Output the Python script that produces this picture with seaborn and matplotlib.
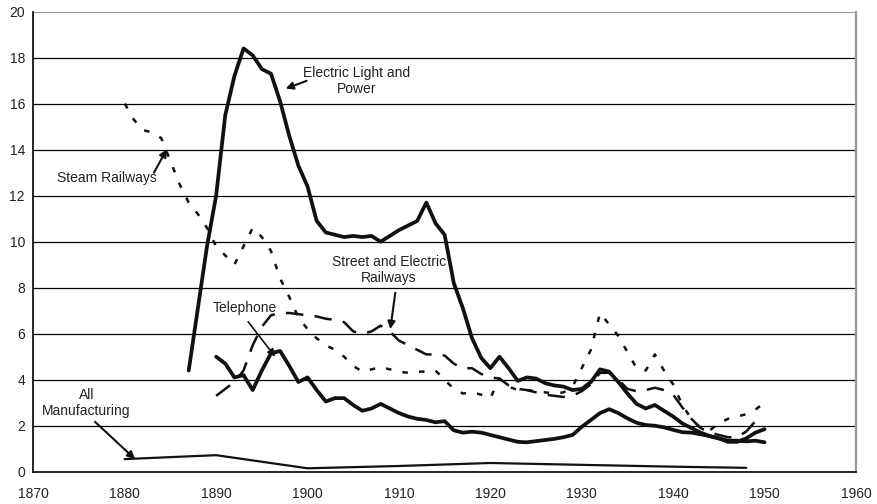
import matplotlib.pyplot as plt
import pandas as pd
import seaborn as sns

# Capital / output style ratios
electric_years = list(range(1887, 1951))
electric_vals = [
    4.4, 7.1, 9.8, 12.0, 15.5, 17.2, 18.4, 18.1, 17.5, 17.3,
    16.1, 14.6, 13.3, 12.4, 10.9, 10.4, 10.3, 10.2, 10.25, 10.2,
    10.25, 10.0, 10.25, 10.5, 10.7, 10.9, 11.7, 10.8, 10.3, 8.2,
    7.1, 5.8, 4.95, 4.5, 5.0, 4.5, 3.95, 4.1, 4.05, 3.85,
    3.75, 3.7, 3.55, 3.6, 3.9, 4.45, 4.35, 3.9, 3.4, 2.95,
    2.75, 2.9, 2.65, 2.4, 2.1, 1.9, 1.7, 1.55, 1.45, 1.3,
    1.3, 1.45, 1.7, 1.85,
]

steam_years = list(range(1880, 1951))
steam_vals = [
    16.0, 15.3, 14.85, 14.75, 14.5, 13.5, 12.5, 11.7, 11.2, 10.6,
    9.8, 9.4, 9.0, 9.8, 10.6, 10.2, 9.6, 8.4, 7.6, 6.7,
    6.2, 5.8, 5.5, 5.3, 5.0, 4.6, 4.35, 4.45, 4.55, 4.45,
    4.35, 4.3, 4.35, 4.35, 4.4, 4.0, 3.6, 3.4, 3.45, 3.35,
    3.2, 4.05, 3.7, 3.55, 3.55, 3.5, 3.45, 3.4, 3.45, 3.7,
    4.5, 5.3, 6.9, 6.4, 5.9, 5.2, 4.5, 4.4, 5.1, 4.4,
    3.8, 2.9, 2.3, 1.9, 1.8, 2.1, 2.3, 2.4, 2.5, 2.7,
    3.0,
]

street_years = list(range(1890, 1951))
street_vals = [
    3.3, 3.6, 3.9, 4.4, 5.5, 6.3, 6.8, 6.9, 6.9, 6.85,
    6.8, 6.75, 6.65, 6.6, 6.5, 6.1, 6.0, 6.1, 6.35, 6.1,
    5.7, 5.5, 5.3, 5.1, 5.1, 5.05, 4.7, 4.5, 4.5, 4.25,
    4.1, 4.05, 3.75, 3.6, 3.55, 3.45, 3.35, 3.3, 3.25, 3.3,
    3.5, 3.8, 4.3, 4.3, 4.0, 3.6, 3.5, 3.55, 3.65, 3.55,
    3.35, 2.8, 2.3, 1.9, 1.7, 1.6, 1.5, 1.5, 1.75, 2.2,
    2.3,
]

telephone_years = list(range(1890, 1951))
telephone_vals = [
    5.0, 4.7, 4.1, 4.2, 3.55, 4.4, 5.15, 5.25, 4.6, 3.9,
    4.1, 3.55, 3.05, 3.2, 3.2, 2.9, 2.65, 2.75, 2.95, 2.75,
    2.55, 2.4, 2.3, 2.25, 2.15, 2.2, 1.8, 1.7, 1.74, 1.7,
    1.6, 1.5, 1.4, 1.3, 1.28, 1.33, 1.38, 1.43, 1.5, 1.6,
    1.95, 2.25, 2.55, 2.72, 2.55, 2.32, 2.13, 2.03, 2.0, 1.93,
    1.82, 1.72, 1.7, 1.63, 1.55, 1.45, 1.35, 1.35, 1.32, 1.35,
    1.28,
]

manuf_years = [1880, 1890, 1900, 1910, 1920, 1930, 1940, 1948]
manuf_vals = [0.55, 0.72, 0.15, 0.25, 0.38, 0.3, 0.22, 0.17]

x_ticks = list(range(1870, 1961, 10))
y_ticks = list(range(0, 21, 2))

sns.set_style("white")
plt.rcParams["font.family"] = ["Liberation Sans", "DejaVu Sans"]

fig, ax = plt.subplots(figsize=(8.77, 5.04), dpi=100)
fig.subplots_adjust(left=0.038, right=0.976, top=0.977, bottom=0.064)

# gridlines (black) under the data
for v in y_ticks[1:-1]:
    ax.axhline(v, color="black", lw=0.9, zorder=1)
ax.axhline(20, color="#9a9a9a", lw=1.6, zorder=1)

dark = "#111111"
sns.lineplot(x=manuf_years, y=manuf_vals, ax=ax, color=dark, lw=1.6, zorder=3)
sns.lineplot(x=steam_years, y=steam_vals, ax=ax, color=dark, lw=1.8,
             dashes=(2.2, 4.5), zorder=3)
sns.lineplot(x=street_years, y=street_vals, ax=ax, color=dark, lw=1.8,
             dashes=(7, 4.5), zorder=3)
sns.lineplot(x=telephone_years, y=telephone_vals, ax=ax, color=dark, lw=2.7, zorder=4)
sns.lineplot(x=electric_years, y=electric_vals, ax=ax, color=dark, lw=2.7, zorder=4)

ax.set_xlim(1870, 1960)
ax.set_ylim(0, 20)
ax.set_xticks(x_ticks)
ax.set_yticks(y_ticks)
ax.set_xlabel("")
ax.set_ylabel("")
ax.tick_params(axis="both", labelsize=10, colors="#222222", length=4, width=1,
               direction="out", pad=3)
ax.tick_params(axis="x", length=5, pad=6)
ax.tick_params(axis="y", pad=2)

ax.spines["left"].set_color("black")
ax.spines["bottom"].set_color("black")
ax.spines["left"].set_linewidth(1.2)
ax.spines["bottom"].set_linewidth(1.2)
ax.spines["top"].set_visible(False)
ax.spines["right"].set_color("#9a9a9a")
ax.spines["right"].set_linewidth(1.6)

arrow = dict(arrowstyle="-|>", color=dark, lw=1.5, mutation_scale=11,
             shrinkA=0, shrinkB=0)
txt = dict(fontsize=10, color="#222222", ha="center", va="center",
           linespacing=1.15)

ax.text(1905.4, 16.97, "Electric Light and\nPower", **txt)
ax.annotate("", xy=(1897.6, 16.65), xytext=(1899.9, 16.99), arrowprops=arrow)

ax.text(1878.1, 12.77, "Steam Railways", **txt)
ax.annotate("", xy=(1884.6, 14.02), xytext=(1883.2, 13.0), arrowprops=arrow)

ax.text(1908.9, 8.78, "Street and Electric\nRailways", **txt)
ax.annotate("", xy=(1909.06, 6.2), xytext=(1909.6, 7.78), arrowprops=arrow)

ax.text(1893.1, 7.1, "Telephone", **txt)
ax.annotate("", xy=(1896.46, 5.0), xytext=(1893.5, 6.52),
            arrowprops=dict(arrow, lw=1.2))

ax.text(1875.8, 2.99, "All\nManufacturing", **txt)
ax.annotate("", xy=(1881.13, 0.55), xytext=(1876.75, 2.17), arrowprops=arrow)

fig.savefig("out.png", dpi=100, facecolor="white")
